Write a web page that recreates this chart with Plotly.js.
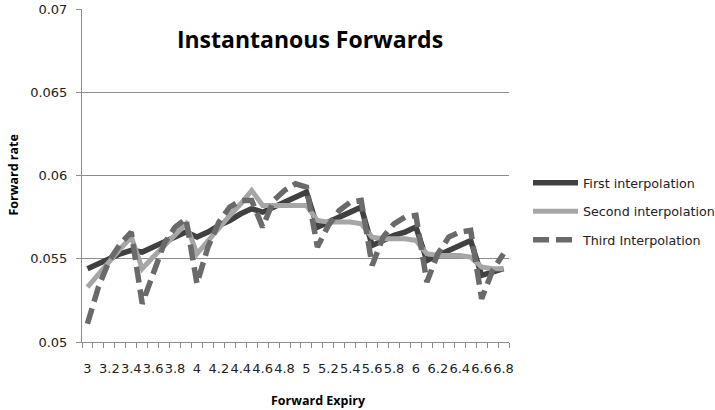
<!DOCTYPE html>
<html>
<head>
<meta charset="utf-8">
<script src="https://cdn.plot.ly/plotly-3.0.1.min.js"></script>
<style>html,body{margin:0;padding:0;background:#fff;}#chart{width:715px;height:410px;}</style>
</head>
<body>
<div id="chart"></div>
<script>
// Forward expiry (years), one point every 0.1
const expiries = [3.0,3.1,3.2,3.3,3.4,3.5,3.6,3.7,3.8,3.9,4.0,4.1,4.2,4.3,4.4,4.5,4.6,4.7,4.8,4.9,5.0,5.1,5.2,5.3,5.4,5.5,5.6,5.7,5.8,5.9,6.0,6.1,6.2,6.3,6.4,6.5,6.6,6.7,6.8];
const tickValues = [3.0,3.2,3.4,3.6,3.8,4.0,4.2,4.4,4.6,4.8,5.0,5.2,5.4,5.6,5.8,6.0,6.2,6.4,6.6,6.8];
const tickLabels = ['3','3.2','3.4','3.6','3.8','4','4.2','4.4','4.6','4.8','5','5.2','5.4','5.6','5.8','6','6.2','6.4','6.6','6.8'];

const firstInterpolation = [0.0544,0.0547,0.0550,0.0553,0.0555,0.0554,0.0557,0.0560,0.0563,0.0566,
  0.0563,0.0566,0.0570,0.0573,0.0577,0.0580,0.0578,0.0581,0.0584,0.0587,0.0590,
  0.0569,0.0572,0.0575,0.0578,0.0581,0.0558,0.0561,0.0564,0.0566,0.0569,
  0.0549,0.0552,0.0555,0.0558,0.0561,0.0540,0.0542,0.0544];
const secondInterpolation = [0.0533,0.0541,0.0549,0.0556,0.0563,0.0544,0.0551,0.0558,0.0564,0.0571,
  0.0553,0.0561,0.0568,0.0576,0.0583,0.0591,0.0582,0.0582,0.0582,0.0582,0.0582,
  0.0573,0.0572,0.0572,0.0572,0.0571,0.0563,0.0562,0.0562,0.0562,0.0561,
  0.0553,0.0552,0.0552,0.0552,0.0551,0.0545,0.0544,0.0544];
const thirdInterpolation = [0.0511,0.0533,0.0549,0.0559,0.0566,0.0523,0.0541,0.0559,0.0569,0.0574,
  0.0535,0.0557,0.0572,0.0581,0.0585,0.0585,0.0569,0.0585,0.0591,0.0595,0.0593,
  0.0557,0.0570,0.0579,0.0584,0.0585,0.0546,0.0563,0.0571,0.0575,0.0576,
  0.0536,0.0553,0.0563,0.0566,0.0567,0.0526,0.0543,0.0553];

const yTickValues = [0.05,0.055,0.06,0.065,0.07];
const yTickLabels = ['0.05','0.055','0.06','0.065','0.07'];

const seriesNames = ['First interpolation','Second interpolation','Third Interpolation'];

const traces = [
  {x: expiries, y: firstInterpolation, name: seriesNames[0], type: 'scatter', mode: 'lines',
   line: {color: '#404040', width: 5.5}, legendgroup: 'a'},
  {x: expiries, y: secondInterpolation, name: seriesNames[1], type: 'scatter', mode: 'lines',
   line: {color: '#a6a6a6', width: 5}, legendgroup: 'b'},
  {x: expiries, y: thirdInterpolation, name: seriesNames[2], type: 'scatter', mode: 'lines',
   line: {color: '#6a6a6a', width: 5.5, dash: '16px,7px'}, legendgroup: 'c'}
];

const gridCol = '#8c8c8c';
const layout = {
  width: 715, height: 410,
  margin: {l: 82, r: 206, t: 9, b: 68, pad: 0, autoexpand: false},
  paper_bgcolor: '#fff', plot_bgcolor: '#fff',
  font: {family: 'DejaVu Sans', size: 13, color: '#222'},
  title: {text: '<b>Instantanous Forwards</b>', font: {family: 'Open Sans', size: 23, color: '#000'},
          x: 310/715, xanchor: 'center', y: 1 - 40/410, yanchor: 'middle'},
  xaxis: {range: [2.95, 6.85], tickmode: 'array', tickvals: tickValues, ticktext: tickLabels,
          tickangle: 0, ticks: '', showgrid: false, zeroline: false, showline: true, linecolor: gridCol, linewidth: 1,
          tickfont: {family: 'DejaVu Sans', size: 13, color: '#222'}, ticklabelstandoff: 14,
          minor: {tickmode: 'linear', tick0: 2.95, dtick: 0.1, ticks: 'outside', ticklen: 5,
                  tickcolor: gridCol, tickwidth: 1, showgrid: false}},
  yaxis: {range: [0.05, 0.07], tickmode: 'array', tickvals: yTickValues, ticktext: yTickLabels,
          ticks: 'outside', ticklen: 5, tickcolor: gridCol, tickwidth: 1,
          showgrid: true, gridcolor: gridCol, gridwidth: 1, zeroline: false,
          showline: true, linecolor: gridCol, linewidth: 1,
          tickfont: {family: 'DejaVu Sans', size: 13, color: '#222'}, ticklabelstandoff: 6},
  legend: {x: (528-82)/427, y: 1 - (168-9)/333, xanchor: 'left', yanchor: 'top',
           font: {family: 'DejaVu Sans', size: 12.7, color: '#222'}, bgcolor: 'rgba(0,0,0,0)',
           tracegroupgap: 9, itemwidth: 45},
  annotations: [
    {text: '<b>Forward Expiry</b>', xref: 'paper', yref: 'paper', x: (318-82)/427, y: -(400-342)/333,
     xanchor: 'center', yanchor: 'middle', showarrow: false, font: {family: 'Open Sans', size: 12.5, color: '#000'}},
    {text: '<b>Forward rate</b>', xref: 'paper', yref: 'paper', x: (13-82)/427, y: 0.5, textangle: -90,
     xanchor: 'center', yanchor: 'middle', showarrow: false, font: {family: 'Open Sans', size: 12.5, color: '#000'}}
  ],
  showlegend: true
};

Plotly.newPlot('chart', traces, layout, {displayModeBar: false, staticPlot: true});
</script>
</body>
</html>
